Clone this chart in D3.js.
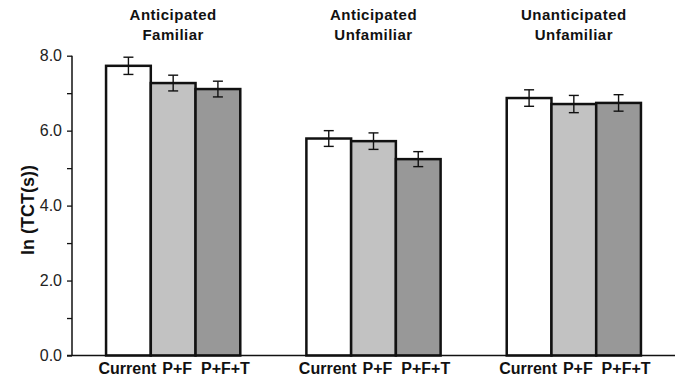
<!DOCTYPE html>
<html>
<head>
<meta charset="utf-8">
<script src="https://cdn.jsdelivr.net/npm/d3@7"></script>
<style>
  body { margin: 0; background: #fff; }
  svg text { font-family: "Liberation Sans", Arial, sans-serif; }
</style>
</head>
<body>
<svg id="chart" width="677" height="381"></svg>
<script>
"use strict"

// Conditions (panel titles, two lines each) and the three designs per condition
var conditions = ["Anticipated Familiar", "Anticipated Unfamiliar", "Unanticipated Unfamiliar"],
    titleLines = [["Anticipated", "Familiar"], ["Anticipated", "Unfamiliar"], ["Unanticipated", "Unfamiliar"]],
    designs = ["Current", "P+F", "P+F+T"],
    // ln(TCT) means, one array per design, in condition order
    current = [7.73, 5.79, 6.87],
    pf      = [7.27, 5.72, 6.71],
    pft     = [7.11, 5.24, 6.74],
    // half-widths of the error bars
    errCurrent = [0.23, 0.21, 0.22],
    errPf      = [0.21, 0.22, 0.23],
    errPft     = [0.21, 0.20, 0.22],
    yTicks = [0, 2, 4, 6, 8];

var svg = d3.select("svg#chart"),
    margin = {left: 72, right: 2, top: 55.7, bottom: 25.5},
    width = +svg.attr("width"),
    height = +svg.attr("height"),
    fills = {"Current": "#ffffff", "P+F": "#c2c2c2", "P+F+T": "#989898"},
    labelShift = {"Current": -1, "P+F": 4, "P+F+T": 7.5};   // labels sit a bit wider than the bars

var means = [current, pf, pft],
    errs = [errCurrent, errPf, errPft];

// flatten to one record per bar
var bars = [];
conditions.forEach(function(c, i) {
  designs.forEach(function(d, j) {
    bars.push({cond: c, design: d, value: means[j][i], err: errs[j][i]});
  });
});

var x0 = d3.scaleBand()
    .domain(conditions)
    .range([margin.left + 1, width - 3])
    .paddingInner(0.33)
    .paddingOuter(0.165);

var x1 = d3.scaleBand()
    .domain(designs)
    .range([0, x0.bandwidth()]);

var y = d3.scaleLinear()
    .domain([0, 8])
    .range([height - margin.bottom, margin.top]);

// Bars
svg.append("g")
  .selectAll("rect")
    .data(bars)
  .enter().append("rect")
    .attr("x", function(d) { return x0(d.cond) + x1(d.design); })
    .attr("y", function(d) { return y(d.value); })
    .attr("width", x1.bandwidth())
    .attr("height", function(d) { return y(0) - y(d.value); })
    .attr("fill", function(d) { return fills[d.design]; })
    .attr("stroke", "#111")
    .attr("stroke-width", 2.5);

// Error bars
var eb = svg.append("g")
    .attr("stroke", "#111")
    .attr("stroke-width", 1.4)
  .selectAll("g")
    .data(bars)
  .enter().append("g")
    .attr("transform", function(d) { return "translate(" + (x0(d.cond) + x1(d.design) + x1.bandwidth() / 2) + ",0)"; });

eb.append("line")
    .attr("y1", function(d) { return y(d.value + d.err); })
    .attr("y2", function(d) { return y(d.value - d.err); });
eb.append("line")
    .attr("x1", -5).attr("x2", 5)
    .attr("y1", function(d) { return y(d.value + d.err); })
    .attr("y2", function(d) { return y(d.value + d.err); });
eb.append("line")
    .attr("x1", -5).attr("x2", 5)
    .attr("y1", function(d) { return y(d.value - d.err); })
    .attr("y2", function(d) { return y(d.value - d.err); });

// Y axis: labelled major ticks plus unlabelled minor ticks
var yAxis = svg.append("g")
    .attr("transform", "translate(" + margin.left + ",0)")
    .call(d3.axisLeft(y).tickValues(d3.range(0, 9, 1)).tickSize(5)
      .tickFormat(function(d) { return yTicks.indexOf(d) >= 0 ? d3.format(".1f")(d) : ""; }));
yAxis.select(".domain").attr("stroke", "#111").attr("stroke-width", 1.5).attr("d", "M0," + y(8) + "V" + y(0));
yAxis.selectAll(".tick line").attr("stroke", "#111").attr("stroke-width", 1.3);
yAxis.selectAll(".tick text")
    .attr("x", -10)
    .attr("font-size", 16)
    .attr("fill", "#222")
    .attr("font-family", "Liberation Sans, Arial, sans-serif");

// X baseline
svg.append("line")
    .attr("x1", margin.left - 5).attr("x2", width - margin.right)
    .attr("y1", y(0)).attr("y2", y(0))
    .attr("stroke", "#111").attr("stroke-width", 1.5);

// Bar labels under the baseline
svg.append("g")
  .selectAll("text")
    .data(bars)
  .enter().append("text")
    .attr("x", function(d) { return x0(d.cond) + x1(d.design) + x1.bandwidth() / 2 + labelShift[d.design]; })
    .attr("y", y(0) + 18)
    .attr("text-anchor", "middle")
    .attr("font-size", 16)
    .attr("font-weight", "bold")
    .attr("fill", "#111")
    .text(function(d) { return d.design; });

// Panel titles
var titles = svg.append("g")
  .selectAll("text")
    .data(conditions)
  .enter().append("text")
    .attr("text-anchor", "middle")
    .attr("font-size", 15)
    .attr("font-weight", "bold")
    .attr("letter-spacing", 0.5)
    .attr("fill", "#111");
titles.each(function(d, i) {
  var t = d3.select(this);
  titleLines[i].forEach(function(line, k) {
    t.append("tspan").attr("x", x0(d) + x0.bandwidth() / 2).attr("y", 20 + k * 20).text(line);
  });
});

// Y axis title
svg.append("text")
    .attr("transform", "translate(34,210) rotate(-90)")
    .attr("text-anchor", "middle")
    .attr("font-size", 18)
    .attr("font-weight", "bold")
    .attr("fill", "#111")
    .text("ln (TCT(s))");
</script>
</body>
</html>
